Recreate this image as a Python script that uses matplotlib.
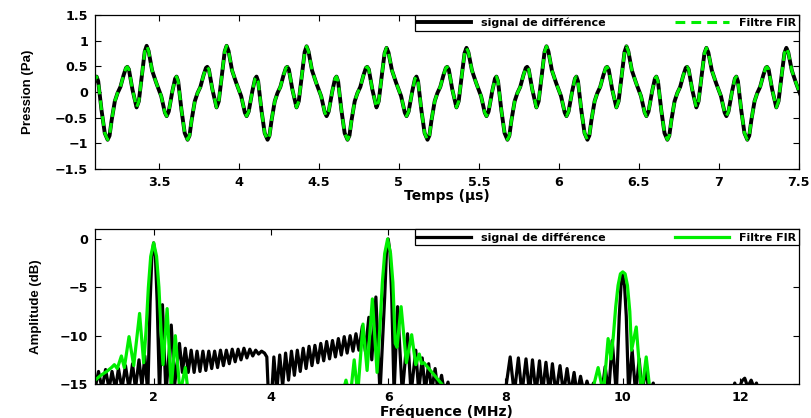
import numpy as np
import matplotlib.pyplot as plt
from matplotlib.ticker import FuncFormatter

nan = np.nan

# ---- time signal: one row per 0.5 us cycle, each row starts at a deep minimum
cycle_start_us = [2.679, 3.179, 3.679, 4.179, 4.679, 5.179, 5.679, 6.179, 6.679, 7.179]
cycle_phase_us = [0.000, 0.012, 0.025, 0.045, 0.062, 0.080, 0.100, 0.115, 0.123, 0.133,
                  0.155, 0.181, 0.195, 0.215, 0.232, 0.244, 0.256, 0.278, 0.305, 0.335,
                  0.358, 0.369, 0.382, 0.405, 0.422, 0.431, 0.441, 0.462, 0.482]
pressure_pa = [
    [-0.92, -0.84, -0.55, -0.18, -0.02, 0.10, 0.33, 0.47, 0.49, 0.44, 0.05, -0.30, -0.18, 0.34, 0.78, 0.89, 0.79, 0.42, 0.17, -0.08, -0.40, -0.47, -0.38, 0.02, 0.26, 0.30, 0.21, -0.36, -0.80],
    [-0.93, -0.85, -0.55, -0.18, -0.02, 0.10, 0.33, 0.47, 0.49, 0.44, 0.05, -0.30, -0.18, 0.34, 0.79, 0.90, 0.80, 0.42, 0.17, -0.08, -0.40, -0.47, -0.38, 0.02, 0.26, 0.30, 0.21, -0.36, -0.80],
    [-0.93, -0.85, -0.55, -0.18, -0.02, 0.10, 0.33, 0.47, 0.49, 0.44, 0.05, -0.30, -0.18, 0.34, 0.79, 0.90, 0.80, 0.42, 0.17, -0.08, -0.40, -0.47, -0.38, 0.02, 0.26, 0.30, 0.21, -0.36, -0.80],
    [-0.93, -0.85, -0.55, -0.18, -0.02, 0.10, 0.33, 0.47, 0.49, 0.44, 0.05, -0.30, -0.18, 0.34, 0.78, 0.89, 0.79, 0.42, 0.17, -0.08, -0.40, -0.47, -0.38, 0.02, 0.26, 0.30, 0.21, -0.36, -0.80],
    [-0.93, -0.85, -0.55, -0.18, -0.02, 0.10, 0.33, 0.47, 0.49, 0.44, 0.05, -0.30, -0.18, 0.34, 0.76, 0.86, 0.77, 0.42, 0.17, -0.08, -0.40, -0.47, -0.38, 0.02, 0.26, 0.30, 0.21, -0.36, -0.80],
    [-0.93, -0.85, -0.55, -0.18, -0.02, 0.10, 0.33, 0.47, 0.49, 0.44, 0.05, -0.30, -0.18, 0.34, 0.76, 0.86, 0.77, 0.42, 0.17, -0.08, -0.40, -0.47, -0.38, 0.02, 0.26, 0.30, 0.21, -0.36, -0.80],
    [-0.93, -0.85, -0.55, -0.18, -0.02, 0.10, 0.33, 0.47, 0.49, 0.44, 0.05, -0.30, -0.18, 0.34, 0.78, 0.89, 0.79, 0.42, 0.17, -0.08, -0.40, -0.47, -0.38, 0.02, 0.26, 0.30, 0.21, -0.36, -0.80],
    [-0.93, -0.85, -0.55, -0.18, -0.02, 0.10, 0.33, 0.47, 0.49, 0.44, 0.05, -0.30, -0.18, 0.34, 0.78, 0.89, 0.79, 0.42, 0.17, -0.08, -0.40, -0.47, -0.38, 0.02, 0.26, 0.30, 0.21, -0.36, -0.80],
    [-0.93, -0.85, -0.55, -0.18, -0.02, 0.10, 0.33, 0.47, 0.49, 0.44, 0.05, -0.30, -0.18, 0.34, 0.76, 0.86, 0.77, 0.42, 0.17, -0.08, -0.40, -0.47, -0.38, 0.02, 0.26, 0.30, 0.21, -0.36, -0.80],
    [-0.93, -0.85, -0.55, -0.18, -0.02, 0.10, 0.33, 0.47, 0.49, 0.44, 0.05, -0.30, -0.18, 0.34, 0.76, 0.86, 0.77, 0.42, 0.17, -0.08, -0.40, -0.47, -0.38, 0.02, 0.26, 0.30, 0.21, -0.36, -0.80],
]

# ---- spectra (dB), extrema, nan = gap below -15 dB
freq_diff_mhz = [
    1.00, 1.06, 1.12, 1.18, 1.24, 1.29, 1.35, 1.40, 1.46, 1.52, 1.58, 1.64, 1.69, 1.75, 1.80, 1.85, 1.90,
    1.94, 1.97, 2.00, 2.03, 2.06, 2.10, 2.15, 2.21, 2.30, 2.36, 2.44, 2.49,
    2.54, 2.59, 2.64, 2.69, 2.74, 2.79, 2.84, 2.89, 2.94, 2.99, 3.04, 3.09, 3.14, 3.19, 3.24, 3.29,
    3.34, 3.39, 3.44, 3.49, 3.54, 3.59, 3.64, 3.69, 3.74, 3.79, 3.84, 3.89, 3.93, 3.96, 4.01,
    4.05, 4.10, 4.15, 4.20, 4.25, 4.30, 4.35, 4.40, 4.45, 4.50, 4.55, 4.60, 4.65, 4.70, 4.75, 4.80,
    4.85, 4.90, 4.95, 5.00, 5.05, 5.10, 5.15, 5.20, 5.25, 5.30, 5.35, 5.40, 5.45, 5.50,
    5.56, 5.61, 5.67, 5.72, 5.79, 5.86, 5.94, 5.97, 6.00, 6.03, 6.06, 6.10, 6.16, 6.24, 6.33, 6.39,
    6.47, 6.52, 6.58, 6.63, 6.69, 6.74, 6.80, 6.85, 6.91, 6.96, 7.02, 7.07, nan,
    7.98, 8.08, 8.15, 8.22, 8.28, 8.35, 8.41, 8.46, 8.52, 8.58, 8.63, 8.69, 8.75, 8.80, 8.86, 8.93,
    8.99, 9.05, 9.11, 9.17, 9.22, 9.28, 9.34, 9.39, 9.45, 9.50, 9.55,
    9.64, 9.70, 9.76, 9.82, 9.89, 9.94, 9.97, 10.00, 10.03, 10.06, 10.10, 10.16, 10.22, 10.28,
    10.33, 10.39, 10.45, 10.52, 10.56, nan,
    11.86, 11.91, 11.96, 12.03, 12.08, 12.13, 12.19, 12.24, 12.28, 12.33,
]
level_diff_db = [
    -15.5, -13.7, -15.5, -13.5, -15.5, -13.7, -15.5, -13.4, -15.5, -13.1, -15.5, -12.9, -15.5, -12.5, -15.2, -12.1, -16.0,
    -6.5, -1.8, -0.4, -1.8, -6.5, -16.0, -6.8, -16.0, -8.9, -15.0, -10.8, -13.8,
    -11.3, -13.8, -11.5, -13.8, -11.6, -13.7, -11.6, -13.6, -11.6, -13.4, -11.6, -13.3, -11.5, -13.1, -11.5, -12.9,
    -11.4, -12.7, -11.4, -12.5, -11.3, -12.3, -11.4, -12.1, -11.5, -11.9, -11.6, -11.8, -12.2, -16.5, -16.5,
    -12.2, -15.8, -12.0, -15.2, -11.8, -14.6, -11.6, -14.1, -11.5, -13.7, -11.3, -13.4, -11.1, -13.1, -11.0, -12.8,
    -10.8, -12.6, -10.6, -12.4, -10.5, -12.2, -10.3, -12.0, -10.1, -11.8, -10.0, -11.6, -9.8, -11.5,
    -9.0, -11.6, -8.1, -12.5, -6.0, -16.0, -6.0, -1.4, 0.0, -1.4, -6.0, -16.0, -7.0, -16.0, -9.8, -16.0,
    -11.5, -15.8, -12.3, -15.8, -12.9, -15.8, -13.4, -15.8, -14.1, -16.0, -14.8, -16.5, nan,
    -16.5, -12.2, -16.0, -12.3, -16.0, -12.4, -16.0, -12.5, -16.0, -12.6, -16.0, -12.75, -16.0, -12.9, -16.0, -13.1,
    -16.0, -13.4, -16.0, -13.8, -16.0, -14.2, -16.0, -14.7, -16.0, -14.9, -16.5,
    -16.0, -13.2, -16.0, -10.5, -16.0, -8.0, -4.8, -3.7, -4.8, -8.0, -16.0, -11.5, -16.0, -12.4,
    -16.0, -13.3, -16.0, -14.9, -16.5, nan,
    -16.0, -14.9, -16.0, -14.7, -14.4, -15.3, -14.6, -15.4, -14.9, -16.0,
]

freq_fir_mhz = [
    1.00, 1.10, 1.20, 1.28, 1.33, 1.38, 1.45, 1.50, 1.58, 1.66, 1.76, 1.83,
    1.87, 1.91, 1.95, 2.00, 2.05, 2.09, 2.13, 2.16, 2.23, 2.30, 2.37, 2.45, 2.54, 2.60, nan,
    5.20, 5.28, 5.35, 5.42, 5.48, 5.57, 5.64, 5.73, 5.81, 5.86, 5.90, 5.94, 5.99, 6.04, 6.08,
    6.12, 6.15, 6.22, 6.31, 6.40, 6.47, 6.53, 6.57, 6.61, 6.94, 6.98, nan,
    9.46, 9.51, 9.58, 9.67, 9.75, 9.80, 9.84, 9.88, 9.92, 9.96, 10.00, 10.04, 10.08, 10.12,
    10.15, 10.23, 10.32, 10.40, 10.47,
]
level_fir_db = [
    -14.6, -14.1, -13.7, -13.3, -13.0, -13.4, -12.1, -13.3, -10.1, -13.1, -7.7, -12.8,
    -9.5, -5.0, -1.8, -0.4, -1.8, -5.0, -10.0, -13.0, -7.2, -15.5, -10.0, -16.0, -13.3, -16.5, nan,
    -16.5, -14.6, -16.5, -12.5, -16.0, -8.8, -13.6, -6.2, -13.8, -9.0, -4.5, -1.5, 0.0, -1.5, -4.5,
    -10.8, -11.2, -7.0, -12.8, -9.9, -13.0, -11.9, -12.9, -12.8, -15.2, -16.5, nan,
    -16.5, -15.0, -13.3, -16.0, -10.3, -12.4, -10.0, -7.0, -4.8, -3.6, -3.4, -3.6, -4.8, -7.5,
    -11.5, -9.1, -16.0, -12.2, -16.0,
]

GREEN = '#00ee00'
plt.rcParams['font.family'] = 'DejaVu Sans'
plt.rcParams['font.weight'] = 'bold'


def matlab_fmt(v, pos):
    return ('%g' % v).replace('-', '\u2212')


def style_axes(ax):
    ax.tick_params(direction='in', top=True, right=True, length=4, width=0.8,
                   labelsize=9.2, pad=5)
    for s in ax.spines.values():
        s.set_linewidth(0.9)
    ax.xaxis.set_major_formatter(FuncFormatter(matlab_fmt))
    ax.yaxis.set_major_formatter(FuncFormatter(matlab_fmt))


def add_legend(ax):
    leg = ax.legend(loc='upper right', ncol=2, frameon=True, fancybox=False,
                    borderaxespad=0, handlelength=4.8, columnspacing=6.3,
                    handletextpad=0.9, borderpad=0.25,
                    prop={'size': 8, 'weight': 'bold'})
    leg.get_frame().set_edgecolor('black')
    leg.get_frame().set_linewidth(0.9)
    leg.get_frame().set_alpha(1)


fig = plt.figure(figsize=(8.12, 4.18), dpi=100)
ax1 = fig.add_axes([0.117, 0.5957, 0.8666, 0.3684])
ax2 = fig.add_axes([0.117, 0.0813, 0.8666, 0.3701])

# top: time signals
t_us = np.concatenate([np.array(cycle_phase_us) + s for s in cycle_start_us])
p_sig = np.concatenate(pressure_pa)
ax1.plot(t_us, p_sig, color='black', lw=2.8, label='signal de différence')
ax1.plot(t_us, p_sig, color=GREEN, lw=2.2, dashes=(3.2, 2.0), label='Filtre FIR')
ax1.set_xlim(3.1, 7.5)
ax1.set_ylim(-1.5, 1.5)
ax1.set_xticks(np.arange(3.5, 7.51, 0.5))
ax1.set_yticks([-1.5, -1, -0.5, 0, 0.5, 1, 1.5])
style_axes(ax1)
ax1.set_xlabel('Temps (µs)', fontsize=10, fontweight='bold')
ax1.xaxis.set_label_coords(0.5, -0.13)
ax1.set_ylabel('Pression (Pa)', fontsize=9.5, fontweight='bold', family='Liberation Sans')
ax1.yaxis.set_label_coords(-0.087, 0.5)
add_legend(ax1)

# bottom: spectra
ax2.plot(freq_diff_mhz, level_diff_db, color='black', lw=2.3, label='signal de différence')
ax2.plot(freq_fir_mhz, level_fir_db, color=GREEN, lw=2.3, label='Filtre FIR')
ax2.set_xlim(1, 13)
ax2.set_ylim(-15, 1.0)
ax2.set_xticks([2, 4, 6, 8, 10, 12])
ax2.set_yticks([-15, -10, -5, 0])
style_axes(ax2)
ax2.set_xlabel('Fréquence (MHz)', fontsize=10, fontweight='bold')
ax2.xaxis.set_label_coords(0.5, -0.13)
ax2.set_ylabel('Amplitude (dB)', fontsize=9.5, fontweight='bold', family='Liberation Sans')
ax2.yaxis.set_label_coords(-0.075, 0.5)
add_legend(ax2)

fig.savefig('out.png', dpi=100)
